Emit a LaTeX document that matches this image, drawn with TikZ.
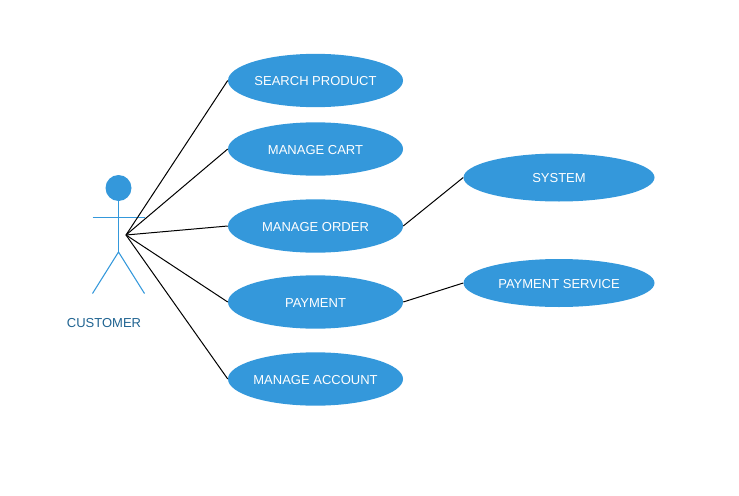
\documentclass[tikz,border=0pt]{standalone}
\usepackage{fontspec}
\setmainfont{Liberation Sans}
\usetikzlibrary{shapes.geometric}
\definecolor{blu}{HTML}{3498DB}
\definecolor{lab}{HTML}{1F6391}
\newcommand{\uctext}[1]{\raisebox{-4pt}[0pt][0pt]{\makebox[0pt]{#1}}}
\tikzset{x=0.75pt,y=-0.75pt,
 uc/.style={ellipse,fill=blu,inner sep=0pt,minimum width=131.25pt,minimum height=40pt,text=white,font=\fontsize{9.75pt}{12pt}\selectfont},
 ucb/.style={uc,minimum width=143.25pt,minimum height=36pt},
 act/.style={draw=blu,line width=0.8pt},
 con/.style={draw=black,line width=0.75pt}}
\begin{document}
\begin{tikzpicture}
\useasboundingbox (0,0) rectangle (739,496);
\node[uc] (a) at (315.5,80.5) {\uctext{SEARCH PRODUCT}};
\node[uc] (b) at (315.5,149) {\uctext{MANAGE CART}};
\node[uc] (c) at (315.5,226) {\uctext{MANAGE ORDER}};
\node[uc] (d) at (315.5,302) {\uctext{PAYMENT}};
\node[uc] (e) at (315.5,379) {\uctext{MANAGE ACCOUNT}};
\node[ucb] (f) at (559,177.5) {\uctext{SYSTEM}};
\node[ucb] (g) at (559,283) {\uctext{PAYMENT SERVICE}};
\node[circle,fill=blu,inner sep=0pt,minimum size=19.5pt] (head) at (118.5,188) {};
\coordinate (hip) at (118.5,252);
\coordinate (la) at (92.5,217.5);
\coordinate (ra) at (144.5,217.5);
\coordinate (lf) at (92.5,293.5);
\coordinate (rf) at (144.5,293.5);
\coordinate (hub) at (126,235);
\draw[act] (head) -- (hip);
\draw[act] (la) -- (ra);
\draw[act] (lf) -- (hip) -- (rf);
\node[text=lab,font=\fontsize{9.75pt}{12pt}\selectfont] (cust) at (104,323.5) {CUSTOMER};
\draw[con] (hub) -- (a.west);
\draw[con] (hub) -- (b.west);
\draw[con] (hub) -- (c.west);
\draw[con] (hub) -- (d.west);
\draw[con] (hub) -- (e.west);
\draw[con] (c.east) -- (f.west);
\draw[con] (d.east) -- (g.west);
\end{tikzpicture}
\end{document}
